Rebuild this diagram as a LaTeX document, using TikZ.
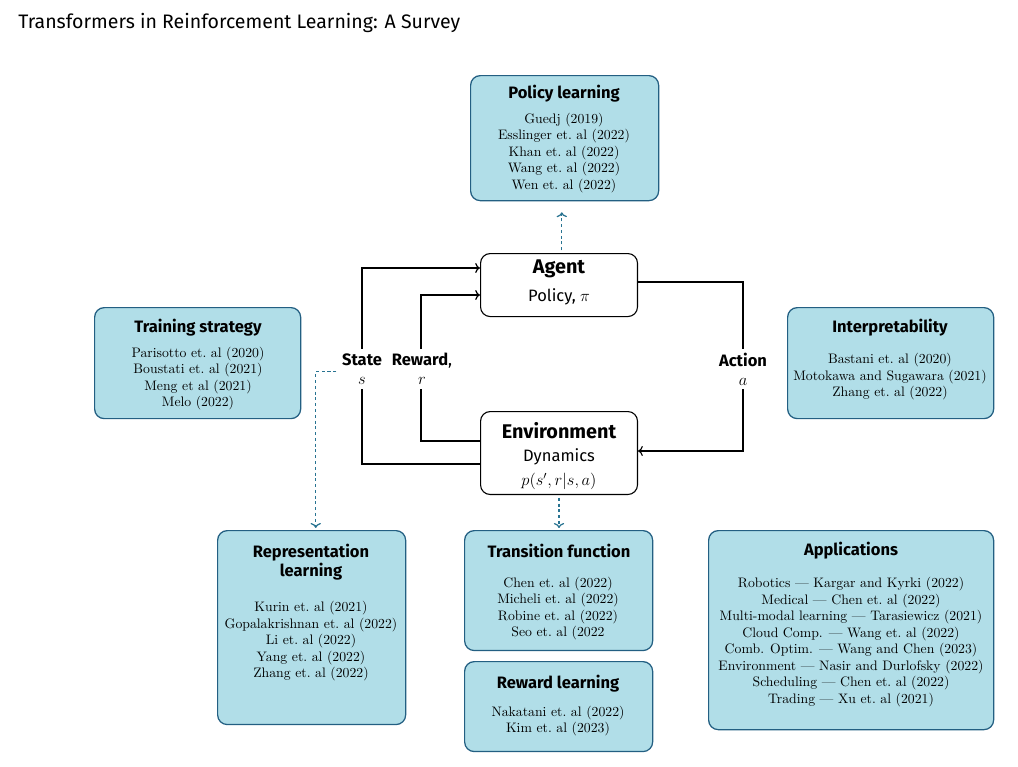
\documentclass[tikz,border=0pt]{standalone}
\usepackage{fontspec}
\setsansfont{Fira Sans}
\usetikzlibrary{arrows.meta,calc}
\definecolor{boxfill}{RGB}{177,222,232}
\definecolor{boxedge}{RGB}{35,95,130}
\definecolor{dashc}{RGB}{40,115,145}
\begin{document}
\begin{tikzpicture}[x=0.727pt,y=-0.727pt,
  box/.style={draw=boxedge, fill=boxfill, rounded corners=7pt, line width=0.9pt, inner sep=0pt, anchor=north west},
  core/.style={draw=black, fill=white, rounded corners=7pt, line width=0.8pt, inner sep=0pt, anchor=north west},
  head/.style={font=\sffamily\large\bfseries, align=center, inner sep=0pt},
  big/.style={font=\sffamily\Large\bfseries, inner sep=0pt},
  sub/.style={font=\sffamily\large, inner sep=0pt, align=center},
  refs/.style={font=\rmfamily\normalsize, align=center, inner sep=0pt},
  lbl/.style={font=\sffamily\large, align=center, fill=white, inner sep=3pt},
  flow/.style={draw=black, line width=0.85pt},
  dashlink/.style={draw=dashc, line width=0.9pt, dash pattern=on 2.2pt off 2pt, ->}
]
\useasboundingbox (0,0) rectangle (1018,767);
% title
\node[anchor=west, font=\sffamily\fontsize{14.2}{17}\selectfont, inner sep=0pt] (title) at (18,23) {Transformers in Reinforcement Learning: A Survey};

% boxes
\node[box, minimum width=136.7pt, minimum height=90.9pt] (pol) at (470,75) {};
\node[core, minimum width=114.1pt, minimum height=45.8pt] (agent) at (480,253) {};
\node[core, minimum width=114.1pt, minimum height=60.3pt] (env) at (480,411) {};
\node[box, minimum width=149.8pt, minimum height=80.7pt] (train) at (94,307) {};
\node[box, minimum width=149.8pt, minimum height=80.7pt] (interp) at (787,307) {};
\node[box, minimum width=136.7pt, minimum height=141.0pt] (rep) at (217,530) {};
\node[box, minimum width=136.7pt, minimum height=87.2pt] (trans) at (464,530) {};
\node[box, minimum width=136.7pt, minimum height=65.4pt] (rew) at (464,661) {};
\node[box, minimum width=207.2pt, minimum height=144.7pt] (apps) at (708,530) {};

% policy learning
\node[head] (polh) at (564,94) {Policy learning};
\node[refs] (poll) at (564,153) {Guedj (2019)\\Esslinger et.~al (2022)\\Khan et.~al (2022)\\Wang et.~al (2022)\\Wen et.~al (2022)};
% agent
\node[big] (agenth) at (559,269) {Agent};
\node[sub] (agents) at (559,297) {Policy, $\pi$};
% environment
\node[big] (envh) at (559,431) {Environment};
\node[sub] (envs) at (559,456.5) {Dynamics};
\node[sub] (envp) at (559,481) {$p(s',r|s,a)$};
% training
\node[head] (trainh) at (198,328) {Training strategy};
\node[refs] (trainl) at (198,378.5) {Parisotto et.~al (2020)\\Boustati et.~al (2021)\\Meng et al (2021)\\Melo (2022)};
% interpretability
\node[head] (interph) at (890,328) {Interpretability};
\node[refs] (interpl) at (890,377) {Bastani et.~al (2020)\\Motokawa and Sugawara (2021)\\Zhang et.~al (2022)};
% representation
\node[head] (reph) at (311,562) {Representation\\learning};
\node[refs] (repl) at (311,641.5) {Kurin et.~al (2021)\\Gopalakrishnan et.~al (2022)\\Li et.~al (2022)\\Yang et.~al (2022)\\Zhang et.~al (2022)};
% transition
\node[head] (transh) at (559,551) {Transition function};
\node[refs] (transl) at (558,608.5) {Chen et.~al (2022)\\Micheli et.~al (2022)\\Robine et.~al (2022)\\Seo et.~al (2022};
% reward learning
\node[head] (rewh) at (558,684) {Reward learning};
\node[refs] (rewl) at (558,721) {Nakatani et.~al (2022)\\Kim et.~al (2023)};
% applications
\node[head] (appsh) at (851,551) {Applications};
\node[refs] (appsl) at (851,642) {Robotics --- Kargar and Kyrki (2022)\\Medical --- Chen et.~al (2022)\\Multi-modal learning --- Tarasiewicz (2021)\\Cloud Comp. --- Wang et.~al (2022)\\Comb. Optim. --- Wang and Chen (2023)\\Environment --- Nasir and Durlofsky (2022)\\Scheduling --- Chen et.~al (2022)\\Trading --- Xu et.~al (2021)};

% loop coordinates
\coordinate (sy) at (362,464);
\coordinate (sx) at (362,268);
\coordinate (ry) at (421,441);
\coordinate (rx) at (421,295);
\coordinate (ay) at (743,282);
\coordinate (ax) at (743,451);

% state loop
\draw[flow,->] (env.west |- sy) -- (sy) -- (sx) -- (agent.west |- sx);
% reward loop
\draw[flow,->] (env.west |- ry) -- (ry) -- (rx) -- (agent.west |- rx);
% action loop
\draw[flow,->] (agent.east |- ay) -- (ay) -- (ax) -- (env.east |- ax);

% labels
\node[lbl] (statel) at (362,369) {\textbf{State}\\$s$};
\node[lbl] (rewardl) at (422,369) {\textbf{Reward},\\$r$};
\node[lbl] (actionl) at (743,369) {\textbf{Action}\\$a$};

% dashed connectors
\draw[dashlink, shorten <=2pt, shorten >=8pt] ([xshift=2pt]agent.north) -- ([xshift=2pt]agent.north |- pol.south);
\draw[dashlink, shorten <=2pt, shorten >=1.5pt] (env.south) -- (env.south |- trans.north);
\draw[dashlink, shorten <=1pt, shorten >=1.5pt] ([yshift=-2pt]statel.west) -| ([xshift=3pt]rep.north);
\end{tikzpicture}
\end{document}
